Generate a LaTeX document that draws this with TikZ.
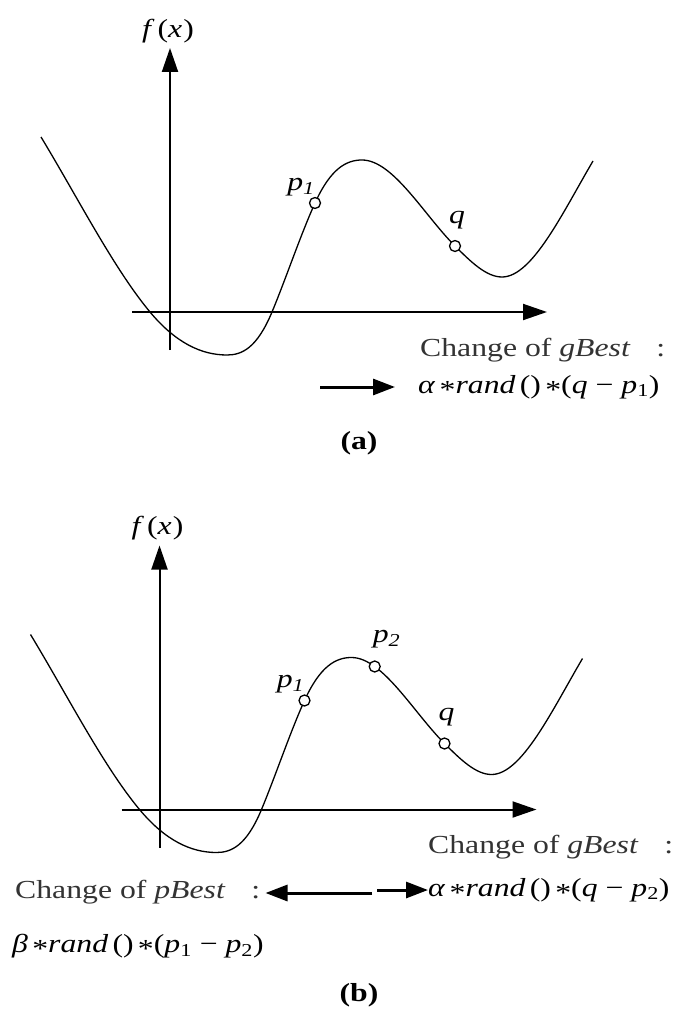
\documentclass[tikz,border=0pt]{standalone}
\usepackage{fontspec}
\setmainfont{Liberation Serif}[FakeStretch=1.22]
\usetikzlibrary{arrows.meta,positioning}
\newcommand\mstar{\raisebox{-0.4ex}{*}}
% one panel: axes, f(x), the curve and the points p1 and q
\newcommand\fxpanel[1]{%
  \coordinate (yo#1) at (170,350);
  \coordinate (yt#1) at (170,48);
  \coordinate (xo#1) at (132,312);
  \coordinate (xt#1) at (547,312);
  \draw[axis] (yo#1) -- (yt#1);
  \draw[axis] (xo#1) -- (xt#1);
  \node[lbl] (fx#1) at (168,31) {\textit{f}\hspace{3pt}(\textit{x}\hspace{1pt})};
  \draw[curve] (41,137) .. controls (77.3,196.9) and (113.7,268.4) .. (150,312)
    .. controls (175.7,342.8) and (201.3,355) .. (227,355)
    .. controls (242,355) and (257,348) .. (272,312)
    .. controls (286.3,277.6) and (300.7,234.5) .. (315,203)
    .. controls (330.7,168.5) and (346.3,160) .. (362,160)
    .. controls (393,160) and (424,215) .. (455,246)
    .. controls (470.7,261.7) and (486.3,277) .. (502,277)
    .. controls (532.3,277) and (562.7,212.5) .. (593,161);
  \node[pt] (p1#1) at (315,203) {};
  \node[pt] (q#1) at (455,246) {};
  \node[lbl] (lp1#1) at (301,187) {\textit{p}\textsubscript{\textit{1}}};
  \node[lbl] (lq#1) at (457,220) {\textit{q}};
}
\tikzset{
  lbl/.style={inner sep=0pt, font=\fontsize{26}{30}\selectfont},
  txt/.style={lbl, text=black!80},
  sublbl/.style={inner sep=0pt, font=\fontsize{26}{30}\selectfont\bfseries},
  axis/.style={-{Triangle[length=24pt, width=16pt]}, line width=2pt},
  curve/.style={line width=1.3pt},
  pt/.style={circle, draw, line width=1.3pt, fill=white, minimum size=11pt, inner sep=0pt},
  push/.style={-{Triangle[length=22pt, width=16pt]}, line width=3pt},
}
\begin{document}
\begin{tikzpicture}[x=1pt, y=-1pt]
  \useasboundingbox (0,0) rectangle (685,1014);
  % (a)
  \fxpanel{a}
  \node[txt, anchor=west] (chga) at (420,350) {Change of \textit{gBest}\hspace{26pt}:};
  \node[lbl, anchor=west] (forma) at (418,387) {\textit{α}\,\mstar\textit{rand}\,()\,\mstar(\textit{q} − \textit{p}\textsubscript{1})};
  \coordinate (arra) at (320,387);
  \draw[push] (arra) -- ([xshift=-23pt]forma.west |- arra);
  \node[sublbl] (capa) at (359,443) {(a)};
  % (b)
  \begin{scope}[shift={(-10.5,497.5)}]
    \fxpanel{b}
    \node[pt] (p2b) at (385.2,169) {};
    \node[lbl] (lp2b) at (397,142) {\textit{p}\textsubscript{\textit{2}}};
  \end{scope}
  \node[txt, anchor=west] (chgb) at (428,847) {Change of \textit{gBest}\hspace{26pt}:};
  \node[lbl, anchor=west] (formb) at (428,890) {\textit{α}\,\mstar\textit{rand}\,()\,\mstar(\textit{q} − \textit{p}\textsubscript{2})};
  \coordinate (arrb) at (377,890);
  \draw[push] (arrb) -- (formb.west |- arrb);
  \node[txt, anchor=west] (chgp) at (15,892) {Change of \textit{pBest}\hspace{26pt}:};
  \node[lbl, anchor=west] (formp) at (12,946) {\textit{β}\,\mstar\textit{rand}\,()\,\mstar(\textit{p}\textsubscript{1} − \textit{p}\textsubscript{2})};
  \coordinate (arrp) at (372,893);
  \draw[push] (arrp) -- ([xshift=5pt]chgp.east |- arrp);
  \node[sublbl] (capb) at (359,995) {(b)};
\end{tikzpicture}
\end{document}
